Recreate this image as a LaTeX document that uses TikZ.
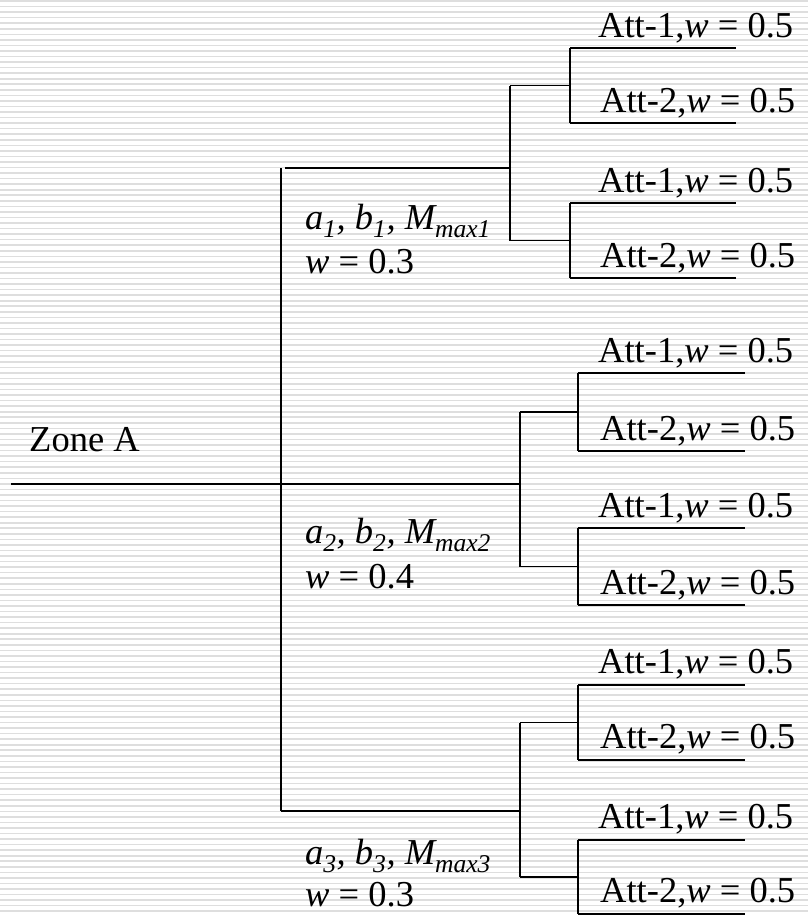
\documentclass[tikz,border=0pt]{standalone}
\usepackage{fontspec}
\setmainfont{Liberation Serif}
\begin{document}
\begin{tikzpicture}[x=1pt,y=-1pt,
  wire/.style={line width=1.6pt, black},
  stripe/.style={line width=1.6pt, black!13},
  big/.style={font=\fontsize{36.5}{44}\selectfont},
  leaf/.style={big, anchor=base west, inner sep=0pt},
  lab/.style={big, anchor=base west, inner sep=0pt}]
\useasboundingbox (0,0) rectangle (808,916);
\fill[white] (0,0) rectangle (808,916);
\foreach \i in {0,...,165} \draw[stripe] (0,{\i*5.55+1}) -- (808,{\i*5.55+1});
% trunk
\coordinate (root) at (11,484);
\coordinate (trTop) at (281,168);
\coordinate (trTopR) at (285,168);
\coordinate (trMid) at (281,484);
\coordinate (trBot) at (281,811);
\coordinate (g1) at (510,168);
\coordinate (g2) at (520,484);
\coordinate (g3) at (520,811);
\draw[wire] (trTop) -- (trBot);
\draw[wire] (trTopR) -- (g1);
\draw[wire] (root) -- (g2);
\draw[wire] (trBot) -- (g3);
\node[big, anchor=base west, inner sep=0pt] (zone) at (29,451) {Zone A};
% groups
\foreach \g/\bx/\sx/\ex/\ya/\yb/\yc/\yd/\gap in {1/510/570/736/48/123/203/278/11, 2/520/578/745/373/451/528/605/11, 3/520/578/745/685/760/840/914/12} {
  \coordinate (g\g t) at (\bx,{(\ya+\yb)/2});
  \coordinate (g\g b) at (\bx,{(\yc+\yd)/2});
  \coordinate (g\g ta) at (\sx,{(\ya+\yb)/2});
  \coordinate (g\g ba) at (\sx,{(\yc+\yd)/2});
  \coordinate (g\g l1) at (\sx,\ya); \coordinate (g\g e1) at (\ex,\ya);
  \coordinate (g\g l2) at (\sx,\yb); \coordinate (g\g e2) at (\ex,\yb);
  \coordinate (g\g l3) at (\sx,\yc); \coordinate (g\g e3) at (\ex,\yc);
  \coordinate (g\g l4) at (\sx,\yd); \coordinate (g\g e4) at (\ex,\yd);
  \draw[wire] (g\g t) -- (g\g b);
  \draw[wire] (g\g t) -- (g\g ta);
  \draw[wire] (g\g b) -- (g\g ba);
  \draw[wire] (g\g l1) -- (g\g l2);
  \draw[wire] (g\g l3) -- (g\g l4);
  \draw[wire] (g\g l1) -- (g\g e1);
  \draw[wire] (g\g l2) -- (g\g e2);
  \draw[wire] (g\g l3) -- (g\g e3);
  \draw[wire] (g\g l4) -- (g\g e4);
  \node[leaf] (g\g x1) at (598,{\ya-\gap}) {Att-1,\textit{w} = 0.5};
  \node[leaf] (g\g x2) at (600,{\yb-\gap}) {Att-2,\textit{w} = 0.5};
  \node[leaf] (g\g x3) at (598,{\yc-\gap}) {Att-1,\textit{w} = 0.5};
  \node[leaf] (g\g x4) at (600,{\yd-\gap}) {Att-2,\textit{w} = 0.5};
}
% labels
\node[lab] (lab1a) at (305,229) {\textit{a\textsubscript{1}, b\textsubscript{1}, M\textsubscript{max1}}};
\node[lab] (lab1b) at (305,273) {\textit{w} = 0.3};
\node[lab] (lab2a) at (305,543) {\textit{a\textsubscript{2}, b\textsubscript{2}, M\textsubscript{max2}}};
\node[lab] (lab2b) at (305,588) {\textit{w} = 0.4};
\node[lab] (lab3a) at (305,864) {\textit{a\textsubscript{3}, b\textsubscript{3}, M\textsubscript{max3}}};
\node[lab] (lab3b) at (305,906) {\textit{w} = 0.3};
\end{tikzpicture}
\end{document}
